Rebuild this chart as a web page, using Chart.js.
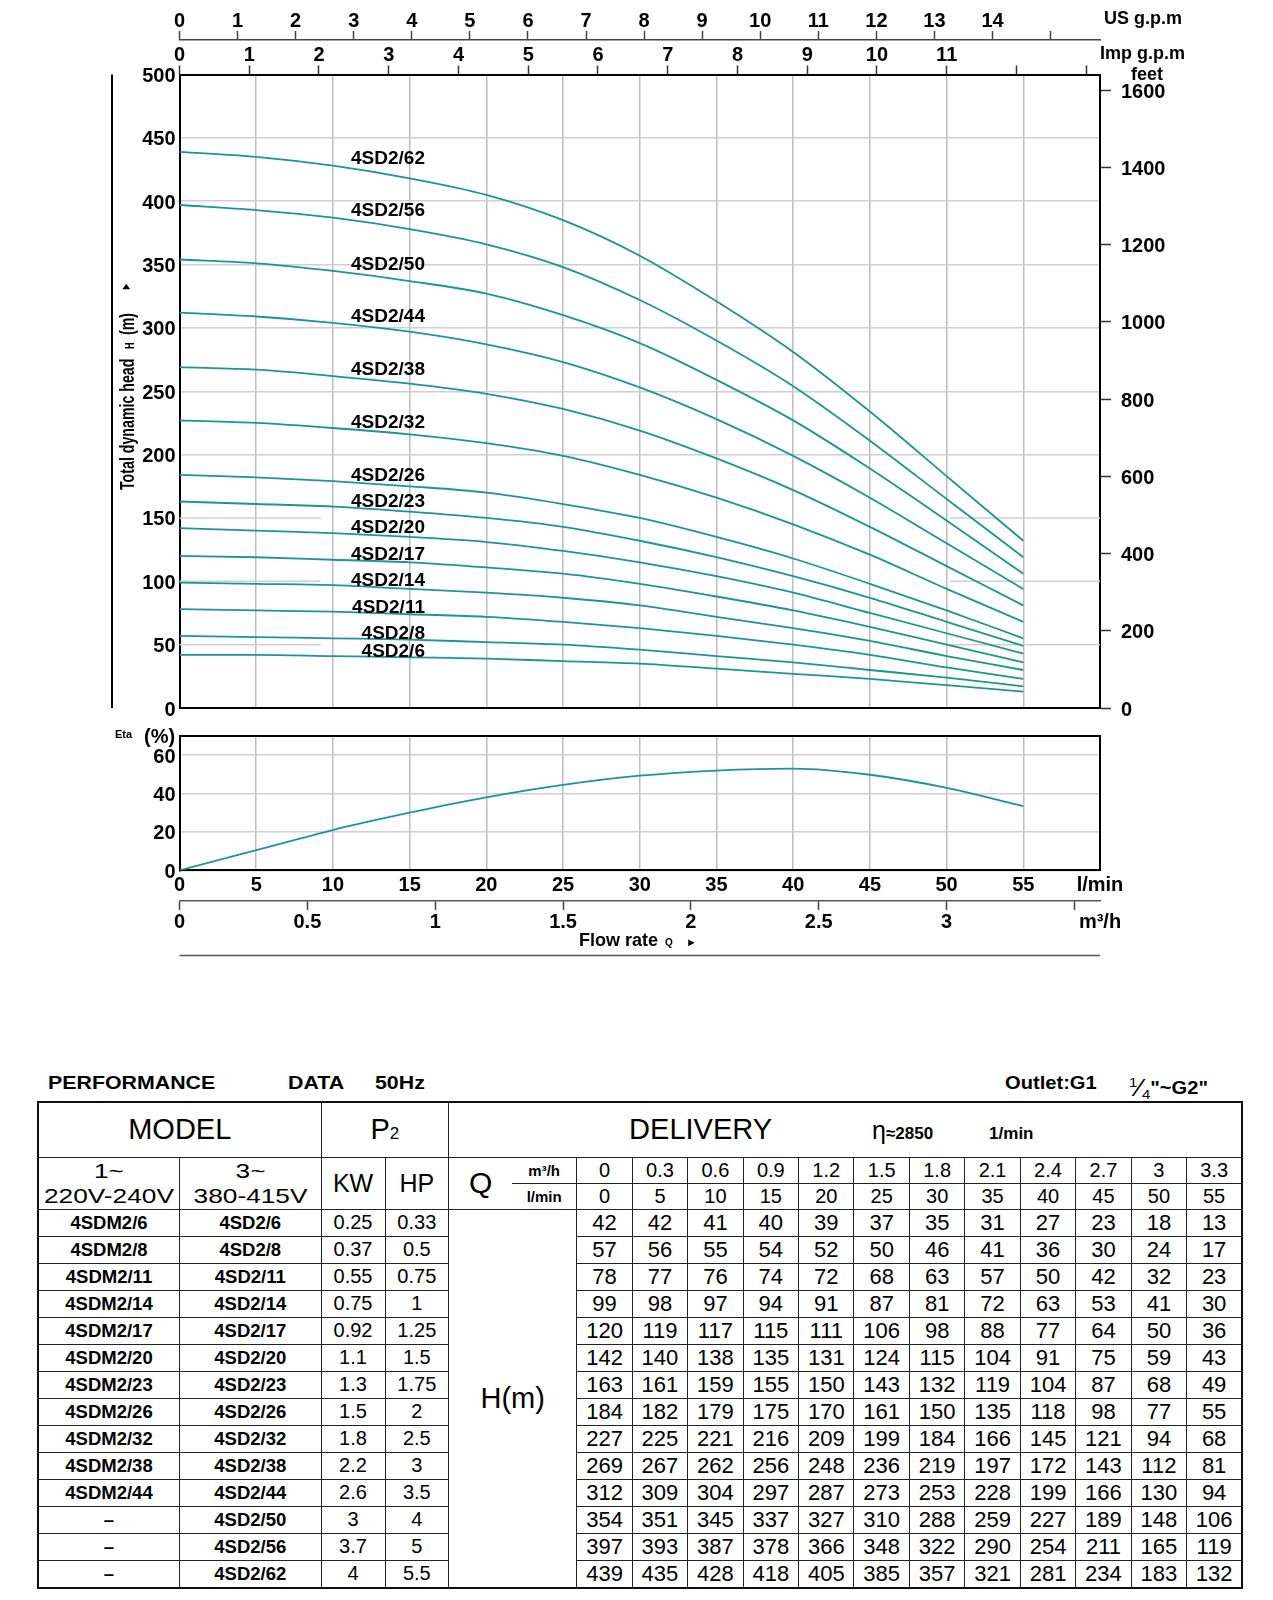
<!DOCTYPE html>
<html lang="en">
<head>
<meta charset="utf-8">
<title>4SD2 performance curves</title>
<script src="https://cdn.jsdelivr.net/npm/chart.js@4.4.1/dist/chart.umd.min.js"></script>
<style>
  html, body { margin: 0; padding: 0; background: #fff; }
  body { font-family: "Liberation Sans", Arial, Helvetica, sans-serif; color: #000; }
  #page { position: relative; width: 1273px; height: 1600px; overflow: hidden; }
  #headChart, #etaChart { position: absolute; left: 0; }
  #headChart { top: 0; }
  #etaChart { top: 720px; }
  .cap { position: absolute; top: 1072px; font-weight: bold; font-size: 17.5px; line-height: 22px;
         white-space: nowrap; transform: scaleX(1.22); transform-origin: 0 50%; }
  .frac sup, .frac sub { font-size: 13px; font-weight: normal; }
  .frac .sl { font-size: 24px; font-weight: normal; vertical-align: -2px; }
  #perf { position: absolute; left: 37px; top: 1101px; width: 1204px; border-collapse: collapse;
          table-layout: fixed; border: 2px solid #111; }
  #perf td { border: 1px solid #222; padding: 0; text-align: center; vertical-align: middle;
             white-space: nowrap; overflow: hidden; }
  #perf .hd { font-size: 29px; }
  #perf .p2 { font-size: 17px; }
  #perf td.deliv { text-align: left; padding-left: 180px; }
  #perf .rpm { margin-left: 100px; font-size: 17px; }
  #perf .rpm .eta { font-size: 25px; font-weight: normal; }
  #perf .rpmu { margin-left: 56px; font-size: 17px; }
  #perf .volt { font-size: 21px; line-height: 25px; }
  #perf .sx { display: inline-block; transform: scaleX(1.25); }
  #perf .kwhp { font-size: 25px; }
  #perf td.q { font-size: 30px; border-right: none; }
  #perf td.unit { font-size: 15px; font-weight: bold; border-left: none; }
  #perf .qv { font-size: 20px; }
  #perf .model { font-size: 18.5px; font-weight: bold; }
  #perf .pw { font-size: 20px; }
  #perf .hm { font-size: 29px; }
  #perf .num { font-size: 22px; }
</style>
</head>
<body>
<div id="page">
  <canvas id="headChart" width="1273" height="730" style="width:1273px;height:730px"></canvas>
  <canvas id="etaChart" width="1273" height="250" style="width:1273px;height:250px"></canvas>

  <div class="cap" style="left:48px">PERFORMANCE</div>
  <div class="cap" style="left:288px">DATA</div>
  <div class="cap" style="left:375px">50Hz</div>
  <div class="cap" style="left:1005px;transform:scaleX(1.15)">Outlet:G1</div>
  <div class="cap" style="left:1129px;transform:scaleX(1.15)"><span class="frac"><sup>1</sup><span class="sl">⁄</span><sub>4</sub></span>"~G2"</div>

  <table id="perf"></table>
</div>

<script>
// Flow points (the table columns)
const flowM3h = [0, 0.3, 0.6, 0.9, 1.2, 1.5, 1.8, 2.1, 2.4, 2.7, 3, 3.3];
const flowLmin = [0, 5, 10, 15, 20, 25, 30, 35, 40, 45, 50, 55];

// Models and motor power
const modelsSingle = ['4SDM2/6', '4SDM2/8', '4SDM2/11', '4SDM2/14', '4SDM2/17', '4SDM2/20', '4SDM2/23',
  '4SDM2/26', '4SDM2/32', '4SDM2/38', '4SDM2/44', '–', '–', '–'];
const modelsThree = ['4SD2/6', '4SD2/8', '4SD2/11', '4SD2/14', '4SD2/17', '4SD2/20', '4SD2/23',
  '4SD2/26', '4SD2/32', '4SD2/38', '4SD2/44', '4SD2/50', '4SD2/56', '4SD2/62'];
const powerKW = [0.25, 0.37, 0.55, 0.75, 0.92, 1.1, 1.3, 1.5, 1.8, 2.2, 2.6, 3, 3.7, 4];
const powerHP = [0.33, 0.5, 0.75, 1, 1.25, 1.5, 1.75, 2, 2.5, 3, 3.5, 4, 5, 5.5];

// Head H (m) per model at each flow point
const h6  = [42, 42, 41, 40, 39, 37, 35, 31, 27, 23, 18, 13];
const h8  = [57, 56, 55, 54, 52, 50, 46, 41, 36, 30, 24, 17];
const h11 = [78, 77, 76, 74, 72, 68, 63, 57, 50, 42, 32, 23];
const h14 = [99, 98, 97, 94, 91, 87, 81, 72, 63, 53, 41, 30];
const h17 = [120, 119, 117, 115, 111, 106, 98, 88, 77, 64, 50, 36];
const h20 = [142, 140, 138, 135, 131, 124, 115, 104, 91, 75, 59, 43];
const h23 = [163, 161, 159, 155, 150, 143, 132, 119, 104, 87, 68, 49];
const h26 = [184, 182, 179, 175, 170, 161, 150, 135, 118, 98, 77, 55];
const h32 = [227, 225, 221, 216, 209, 199, 184, 166, 145, 121, 94, 68];
const h38 = [269, 267, 262, 256, 248, 236, 219, 197, 172, 143, 112, 81];
const h44 = [312, 309, 304, 297, 287, 273, 253, 228, 199, 166, 130, 94];
const h50 = [354, 351, 345, 337, 327, 310, 288, 259, 227, 189, 148, 106];
const h56 = [397, 393, 387, 378, 366, 348, 322, 290, 254, 211, 165, 119];
const h62 = [439, 435, 428, 418, 405, 385, 357, 321, 281, 234, 183, 132];
const headRows = [h6, h8, h11, h14, h17, h20, h23, h26, h32, h38, h44, h50, h56, h62];

// Efficiency (%)
const etaCurve = [0, 10.5, 21, 30, 38, 44.5, 49.3, 52, 53, 49.8, 43, 33.5];

// Axis ticks
const headTicks = [0, 50, 100, 150, 200, 250, 300, 350, 400, 450, 500];
const feetTicks = [0, 200, 400, 600, 800, 1000, 1200, 1400, 1600];
const usGpmTicks = [0, 1, 2, 3, 4, 5, 6, 7, 8, 9, 10, 11, 12, 13, 14, 15];
const impGpmTicks = [0, 1, 2, 3, 4, 5, 6, 7, 8, 9, 10, 11, 12, 13];
const lminTicks = [0, 5, 10, 15, 20, 25, 30, 35, 40, 45, 50, 55, 60];
const m3hTicks = [0, 0.5, 1, 1.5, 2, 2.5, 3, 3.5, 3.6];
const etaTicks = [0, 10, 20, 30, 40, 50, 60, 70];

// head gridlines that are broken where the low curves run (in the original)
const brokenHeadLines = [50, 100, 150];

const LMIN_MAX = 60;
const FAMILY = '"Liberation Sans", Arial, sans-serif';
const LINE = '#18998b';
const GRID_X = '#bdbdbd';
const GRID_Y = '#cfcfcf';
const tickFont = { family: FAMILY, size: 20, weight: 'bold' };

function bold(size) { return 'bold ' + size + 'px ' + FAMILY; }
function setTicks(values) { return scale => { scale.ticks = values.map(v => ({ value: v })); }; }
function fixWidth(w) { return scale => { scale.width = w; }; }
function fixHeight(h) { return scale => { scale.height = h; }; }

// Extra drawing for the head chart: titles, unit names, curve names
const headDecor = {
  id: 'headDecor',
  beforeDatasetsDraw(chart) {
    // the broken gridlines: only the outer pieces are drawn
    const { ctx, chartArea: a, scales } = chart;
    const gapL = scales.x.getPixelForValue(9.2);
    const gapR = scales.x.getPixelForValue(50.2);
    ctx.save();
    ctx.strokeStyle = GRID_Y;
    ctx.lineWidth = 1.5;
    brokenHeadLines.forEach(v => {
      const y = scales.y.getPixelForValue(v);
      ctx.beginPath();
      ctx.moveTo(a.left, y); ctx.lineTo(gapL, y);
      ctx.moveTo(gapR, y); ctx.lineTo(a.right, y);
      ctx.stroke();
    });
    ctx.restore();
  },
  afterDraw(chart) {
    const { ctx, chartArea: a, scales } = chart;
    ctx.save();
    ctx.strokeStyle = '#000';
    ctx.lineWidth = 2;
    ctx.beginPath();
    ctx.moveTo(112, a.top);
    ctx.lineTo(112, a.bottom);
    ctx.stroke();

    ctx.fillStyle = '#000';
    ctx.textBaseline = 'middle';
    ctx.textAlign = 'left';
    ctx.font = bold(18);
    ctx.fillText('US g.p.m', 1104, 19);
    ctx.fillText('Imp g.p.m', 1100, 54);
    ctx.textAlign = 'center';
    ctx.fillText('feet', 1147, 75);

    // curve names, right aligned a little past 15 l/min
    ctx.textAlign = 'right';
    ctx.font = bold(19);
    const lx = scales.x.getPixelForValue(16);
    headRows.forEach((row, i) => {
      ctx.fillText(modelsThree[i], lx, scales.y.getPixelForValue(row[0] * 0.98 + 7) + 5);
    });

    // rotated axis title
    ctx.translate(127, 387);
    ctx.rotate(-Math.PI / 2);
    ctx.scale(1, 1.45);
    ctx.textAlign = 'left';
    ctx.textBaseline = 'alphabetic';
    ctx.font = bold(14.2);
    ctx.fillText('Total dynamic head', -103, 5);
    ctx.font = bold(9);
    ctx.fillText('H', 38, 5);
    ctx.font = bold(14.2);
    ctx.fillText('(m)', 52, 5);
    ctx.font = bold(9);
    ctx.fillText('►', 96, 2);
    ctx.restore();
  }
};

new Chart(document.getElementById('headChart').getContext('2d'), {
  type: 'line',
  data: {
    datasets: headRows.map((row, i) => ({
      label: modelsThree[i],
      data: flowLmin.map((q, j) => ({ x: q, y: row[j] })),
      borderColor: LINE,
      borderWidth: 1.8,
      pointRadius: 0,
      cubicInterpolationMode: 'monotone',
      fill: false
    }))
  },
  options: {
    responsive: false,
    animation: false,
    devicePixelRatio: 1,
    layout: { padding: 0 },
    plugins: { legend: { display: false }, tooltip: { enabled: false } },
    scales: {
      x: {
        type: 'linear', position: 'bottom', min: 0, max: LMIN_MAX,
        afterBuildTicks: setTicks(lminTicks), afterFit: fixHeight(18),
        ticks: { display: false },
        grid: { color: GRID_X, lineWidth: 1.5, drawTicks: false },
        border: { color: '#000', width: 2 }
      },
      imp: {
        type: 'linear', position: 'top', weight: 0, min: 0, max: LMIN_MAX / 4.54609,
        afterBuildTicks: setTicks(impGpmTicks), afterFit: fixHeight(34.5),
        ticks: { font: tickFont, color: '#000', padding: -2, maxRotation: 0, minRotation: 0, autoSkip: false,
                 callback: v => (v <= 11 ? v : '') },
        grid: { drawOnChartArea: false, tickLength: 9, tickColor: '#333', tickWidth: 1.5 },
        border: { color: '#000', width: 2 }
      },
      us: {
        type: 'linear', position: 'top', weight: 1, min: 0, max: LMIN_MAX / 3.78541,
        afterBuildTicks: setTicks(usGpmTicks), afterFit: fixHeight(40),
        ticks: { font: tickFont, color: '#000', padding: -2, maxRotation: 0, minRotation: 0, autoSkip: false,
                 callback: v => (v <= 14 ? v : '') },
        grid: { drawOnChartArea: false, tickLength: 9, tickColor: '#444', tickWidth: 1.5 },
        border: { color: '#444', width: 1.5 }
      },
      y: {
        type: 'linear', position: 'left', min: 0, max: 500,
        afterBuildTicks: setTicks(headTicks), afterFit: fixWidth(179.5),
        ticks: { font: tickFont, color: '#000', padding: 4, labelOffset: 2 },
        grid: { lineWidth: 1.5, drawTicks: false,
                color: c => (c.tick && brokenHeadLines.includes(c.tick.value) ? 'rgba(0,0,0,0)' : GRID_Y) },
        border: { color: '#000', width: 2 }
      },
      ft: {
        type: 'linear', position: 'right', min: 0, max: 500 * 3.28084,
        afterBuildTicks: setTicks(feetTicks), afterFit: fixWidth(173),
        ticks: { font: tickFont, color: '#000', padding: 10, labelOffset: 2, callback: v => String(v) },
        grid: { drawOnChartArea: false, tickLength: 11, tickColor: '#333', tickWidth: 1.5 },
        border: { color: '#000', width: 2 }
      }
    }
  },
  plugins: [headDecor]
});

// Extra drawing for the efficiency chart
const etaDecor = {
  id: 'etaDecor',
  afterDraw(chart) {
    const { ctx, chartArea: a } = chart;
    ctx.save();
    ctx.fillStyle = '#000';
    ctx.textBaseline = 'middle';
    ctx.textAlign = 'left';
    ctx.font = bold(11);
    ctx.fillText('Eta', 115, a.top - 1);
    ctx.font = bold(20);
    ctx.fillText('(%)', 144, a.top + 1);

    const cy = 221;
    ctx.font = bold(18);
    ctx.fillText('Flow rate', 579, cy);
    ctx.font = bold(10);
    ctx.fillText('Q', 665, cy + 2);
    ctx.font = bold(11);
    ctx.fillText('►', 686, cy + 2);

    ctx.strokeStyle = '#555';
    ctx.lineWidth = 1.5;
    ctx.beginPath();
    ctx.moveTo(a.left, 235.5);
    ctx.lineTo(a.right, 235.5);
    ctx.stroke();
    ctx.restore();
  }
};

new Chart(document.getElementById('etaChart').getContext('2d'), {
  type: 'line',
  data: {
    datasets: [{
      label: 'Eta',
      data: flowLmin.map((q, i) => ({ x: q, y: etaCurve[i] })),
      borderColor: LINE,
      borderWidth: 1.8,
      pointRadius: 0,
      cubicInterpolationMode: 'monotone',
      fill: false
    }]
  },
  options: {
    responsive: false,
    animation: false,
    devicePixelRatio: 1,
    layout: { padding: 0 },
    plugins: { legend: { display: false }, tooltip: { enabled: false } },
    scales: {
      x: {
        type: 'linear', position: 'bottom', weight: 0, min: 0, max: LMIN_MAX,
        afterBuildTicks: setTicks(lminTicks), afterFit: fixHeight(30.7),
        ticks: { font: tickFont, color: '#000', padding: 3, maxRotation: 0, minRotation: 0, autoSkip: false,
                 callback: v => (v === LMIN_MAX ? 'l/min' : v) },
        grid: { color: GRID_X, lineWidth: 1.5, drawTicks: false },
        border: { color: '#000', width: 2 }
      },
      m3: {
        type: 'linear', position: 'bottom', weight: 1, min: 0, max: LMIN_MAX * 0.06,
        afterBuildTicks: setTicks(m3hTicks), afterFit: fixHeight(69),
        ticks: { font: tickFont, color: '#000', padding: 0, maxRotation: 0, minRotation: 0, autoSkip: false,
                 callback: v => (v > 3.55 ? 'm³/h' : v > 3.05 ? '' : v) },
        grid: { drawOnChartArea: false, tickLength: 9, tickWidth: 1.5,
                tickColor: c => (c.tick && c.tick.value > 3.55 ? 'rgba(0,0,0,0)' : '#444') },
        border: { color: '#555', width: 1.5 }
      },
      frameTop: {
        type: 'linear', position: 'top', min: 0, max: 1, afterFit: fixHeight(15.5),
        ticks: { display: false },
        grid: { drawOnChartArea: false, drawTicks: false },
        border: { color: '#000', width: 2 }
      },
      y: {
        type: 'linear', position: 'left', min: 0, max: 70,
        afterBuildTicks: setTicks(etaTicks), afterFit: fixWidth(179.5),
        ticks: { font: tickFont, color: '#000', padding: 4, labelOffset: 2,
                 callback: v => (v % 20 === 0 && v <= 60 ? v : '') },
        grid: { color: GRID_Y, lineWidth: 1.5, drawTicks: false },
        border: { color: '#000', width: 2 }
      },
      frameRight: {
        type: 'linear', position: 'right', min: 0, max: 1, afterFit: fixWidth(173),
        ticks: { display: false },
        grid: { drawOnChartArea: false, drawTicks: false },
        border: { color: '#000', width: 2 }
      }
    }
  },
  plugins: [etaDecor]
});

// Performance table
function buildTable() {
  const colW = [141.5, 141.5, 64, 63.6, 63.5, 64.7].concat(flowLmin.map(() => 55.45));
  let html = '<colgroup>' + colW.map(w => '<col style="width:' + w + 'px">').join('') + '</colgroup>';

  html += '<tr style="height:55px">' +
    '<td colspan="2"><span class="hd">MODEL</span></td>' +
    '<td colspan="2"><span class="hd">P</span><span class="p2">2</span></td>' +
    '<td colspan="' + (flowLmin.length + 2) + '" class="deliv"><span class="hd">DELIVERY</span>' +
    '<span class="rpm"><span class="eta">η</span><b>≈2850</b></span><b class="rpmu">1/min</b></td></tr>';

  html += '<tr style="height:26px">' +
    '<td rowspan="2" class="volt"><span class="sx">1~<br>220V-240V</span></td>' +
    '<td rowspan="2" class="volt"><span class="sx">3~<br>380-415V</span></td>' +
    '<td rowspan="2" class="kwhp">KW</td>' +
    '<td rowspan="2" class="kwhp">HP</td>' +
    '<td rowspan="2" class="q">Q</td>' +
    '<td class="unit" style="border-bottom:1px solid #222">m³/h</td>' +
    flowM3h.map(v => '<td class="qv">' + v + '</td>').join('') + '</tr>';

  html += '<tr style="height:26px">' +
    '<td class="unit">l/min</td>' +
    flowLmin.map(v => '<td class="qv">' + v + '</td>').join('') + '</tr>';

  headRows.forEach((row, i) => {
    html += '<tr style="height:26.9px">' +
      '<td class="model">' + modelsSingle[i] + '</td>' +
      '<td class="model">' + modelsThree[i] + '</td>' +
      '<td class="pw">' + powerKW[i] + '</td>' +
      '<td class="pw">' + powerHP[i] + '</td>' +
      (i === 0 ? '<td colspan="2" rowspan="' + headRows.length + '" class="hm">H(m)</td>' : '') +
      row.map(v => '<td class="num">' + v + '</td>').join('') + '</tr>';
  });

  document.getElementById('perf').innerHTML = html;
}

buildTable();
</script>
</body>
</html>
